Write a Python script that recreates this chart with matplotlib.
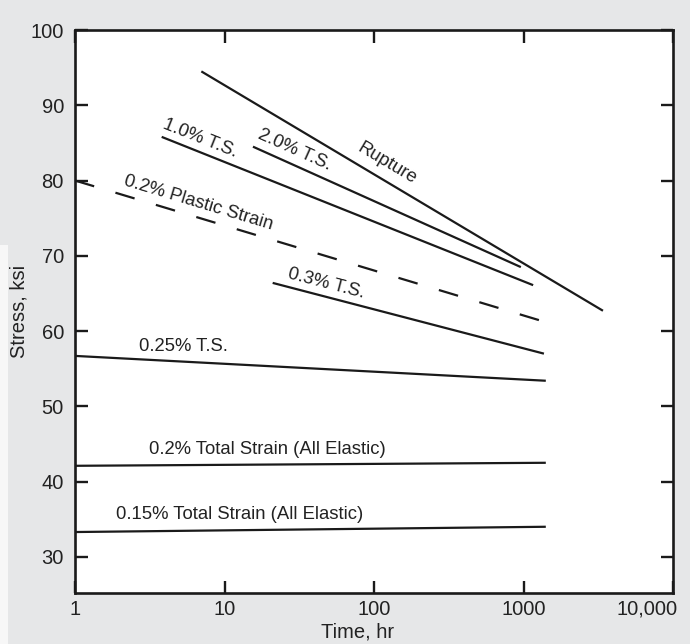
import numpy as np
import matplotlib
matplotlib.use("Agg")
import matplotlib.pyplot as plt
from matplotlib.ticker import FixedLocator, FixedFormatter
import matplotlib.transforms as mtransforms
from matplotlib.patches import Rectangle

plt.rcParams['font.family'] = ['Liberation Sans', 'DejaVu Sans']

# ---- data ----
curve_names = ["Rupture", "2.0% T.S.", "1.0% T.S.", "0.2% Plastic Strain",
               "0.3% T.S.", "0.25% T.S.", "0.2% Total Strain (All Elastic)",
               "0.15% Total Strain (All Elastic)"]
time_start = [7.0, 15.5, 3.8, 1.0, 21.0, 1.0, 1.0, 1.0]
time_end = [3400, 960, 1160, 1400, 1370, 1410, 1410, 1410]
stress_start = [94.5, 84.5, 85.8, 80.0, 66.4, 56.7, 42.1, 33.3]
stress_end = [62.7, 68.5, 66.1, 61.2, 57.0, 53.4, 42.5, 34.0]
dashed = [False, False, False, True, False, False, False, False]

# label anchor positions (data coords)
label_time = [122, 29.6, 6.86, 6.65, 47.7, 5.28, 19.5, 12.7]
label_stress = [82.2, 84.06, 85.66, 77.0, 66.3, 58.0, 44.2, 35.6]
label_follow_slope = [True, True, True, True, True, False, False, False]

x_ticks = [1, 10, 100, 1000, 10000]
x_tick_labels = ["1", "10", "100", "1000", "10,000"]
y_ticks = [30, 40, 50, 60, 70, 80, 90, 100]
y_tick_labels = ["30", "40", "50", "60", "70", "80", "90", "100"]

bg = "#e6e7e8"
ink = "#1a1a1a"
fig = plt.figure(figsize=(6.9, 6.44), dpi=100, facecolor=bg)
# light scanning strip along the lower-left edge of the page
fig.patches.append(Rectangle((0, 0), 8/690, (644-245)/644, transform=fig.transFigure,
                             facecolor="#f7f7f7", edgecolor="none", zorder=0))
ax = fig.add_axes([75/690, 1-593/644, (673-75)/690, (593-30)/644])
ax.set_facecolor("white")
ax.set_xscale("log")
ax.set_xlim(1, 10000)
ax.set_ylim(25.2, 100)

for s in ax.spines.values():
    s.set_linewidth(1.9)
    s.set_color(ink)

ax.xaxis.set_major_locator(FixedLocator(x_ticks))
ax.xaxis.set_major_formatter(FixedFormatter(x_tick_labels))
ax.xaxis.set_minor_locator(FixedLocator([]))
ax.yaxis.set_major_locator(FixedLocator(y_ticks))
ax.yaxis.set_major_formatter(FixedFormatter(y_tick_labels))
ax.tick_params(axis='both', which='major', direction='in', length=9, width=1.7,
               color=ink, labelsize=14.5, labelcolor="#222222",
               top=True, right=True)
ax.tick_params(axis='x', pad=5)
ax.tick_params(axis='y', pad=8)

ax.set_xlabel("Time, hr", fontsize=14.5, color="#222222")
ax.xaxis.set_label_coords((358-75)/598, (593-623)/563)
ax.set_ylabel("Stress, ksi", fontsize=14.5, color="#222222")
ax.yaxis.set_label_coords((29-75)/598, 0.5)

fig.canvas.draw()
last = ax.xaxis.get_major_ticks()[-1].label1
last.set_horizontalalignment('right')
last.set_transform(last.get_transform() + mtransforms.ScaledTranslation(0.05, 0, fig.dpi_scale_trans))

for i, name in enumerate(curve_names):
    ls = (0, (9, 10)) if dashed[i] else '-'
    ax.plot([time_start[i], time_end[i]], [stress_start[i], stress_end[i]],
            color=ink, lw=1.6, ls=ls, solid_capstyle='butt', dash_capstyle='butt')
    rot = 0
    if label_follow_slope[i]:
        p0 = ax.transData.transform((time_start[i], stress_start[i]))
        p1 = ax.transData.transform((time_end[i], stress_end[i]))
        rot = np.degrees(np.arctan2(p1[1]-p0[1], p1[0]-p0[0]))
    ax.text(label_time[i], label_stress[i], name, rotation=rot, rotation_mode='anchor',
            ha='center', va='center', fontsize=13.3, color="#222222")

fig.savefig("out.png", dpi=100, facecolor=bg)
